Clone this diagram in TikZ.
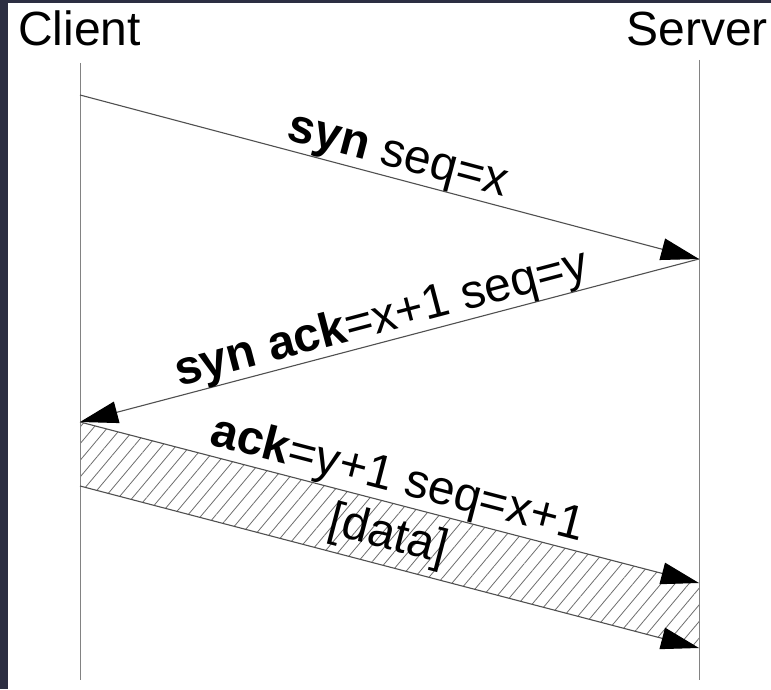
\documentclass[tikz,border=0pt]{standalone}
\usepackage{fontspec}
\setmainfont{Liberation Sans}
\usetikzlibrary{arrows.meta,patterns.meta}
\definecolor{frame}{RGB}{44,46,66}
\definecolor{lifegray}{RGB}{130,130,130}
\definecolor{msggray}{RGB}{80,80,80}
\definecolor{hatchgray}{RGB}{110,110,110}
\tikzset{
  lbl/.style={inner sep=0pt, font=\fontsize{48}{52}\selectfont, text=black},
  lifeline/.style={draw=lifegray, line width=1pt},
  msg/.style={draw=msggray, line width=1.1pt, -{Triangle[length=38pt,width=22pt,color=black,fill=black]}},
}
\begin{document}
\begin{tikzpicture}[x=1pt,y=1pt]
\useasboundingbox (0,0) rectangle (771,689);
\fill[white] (0,0) rectangle (771,689);
\fill[frame] (0,0) rectangle (8,689);
\fill[frame] (0,686) rectangle (771,689);

% coordinates
\coordinate (c0) at (80,626);
\coordinate (c1) at (80,9);
\coordinate (s0) at (699,629);
\coordinate (s1) at (699,9);
\coordinate (a1s) at (80,594);
\coordinate (a1e) at (699,430);
\coordinate (a2s) at (699,430);
\coordinate (a2e) at (80,267);
\coordinate (b1s) at (80,267);
\coordinate (b1e) at (699,106);
\coordinate (b2s) at (80,203);
\coordinate (b2e) at (699,41);

% headers
\node[lbl, anchor=base west] (client) at (18,643) {Client};
\node[lbl, anchor=base east] (server) at (768,643) {Server};

% hatched data band
\fill[pattern={Lines[angle=50,distance=10.7pt,line width=0.8pt]}, pattern color=hatchgray]
  (b1s) -- (b1e) -- (b2e) -- (b2s) -- cycle;

% lifelines
\draw[lifeline] (c0) -- (c1);
\draw[lifeline] (s0) -- (s1);

% messages
\draw[msg] (a1s) -- (a1e);
\draw[msg] (a2s) -- (a2e);
\draw[msg] (b1s) -- (b1e);
\draw[msg] (b2s) -- (b2e);

% labels
\node[lbl, anchor=base, rotate=-14.84] (l1) at (394.6,521.0) {\textbf{syn} seq=x};
\node[lbl, anchor=base, rotate=14.75] (l2) at (385,357.0) {\textbf{syn ack}=x+1 seq=y};
\node[lbl, anchor=base, rotate=-14.58] (l3) at (394.3,196.6) {\textbf{ack}=y+1 seq=x+1};
\node[lbl, anchor=base, rotate=-14.58] (l4) at (385,140.4) {[data]};
\end{tikzpicture}
\end{document}
